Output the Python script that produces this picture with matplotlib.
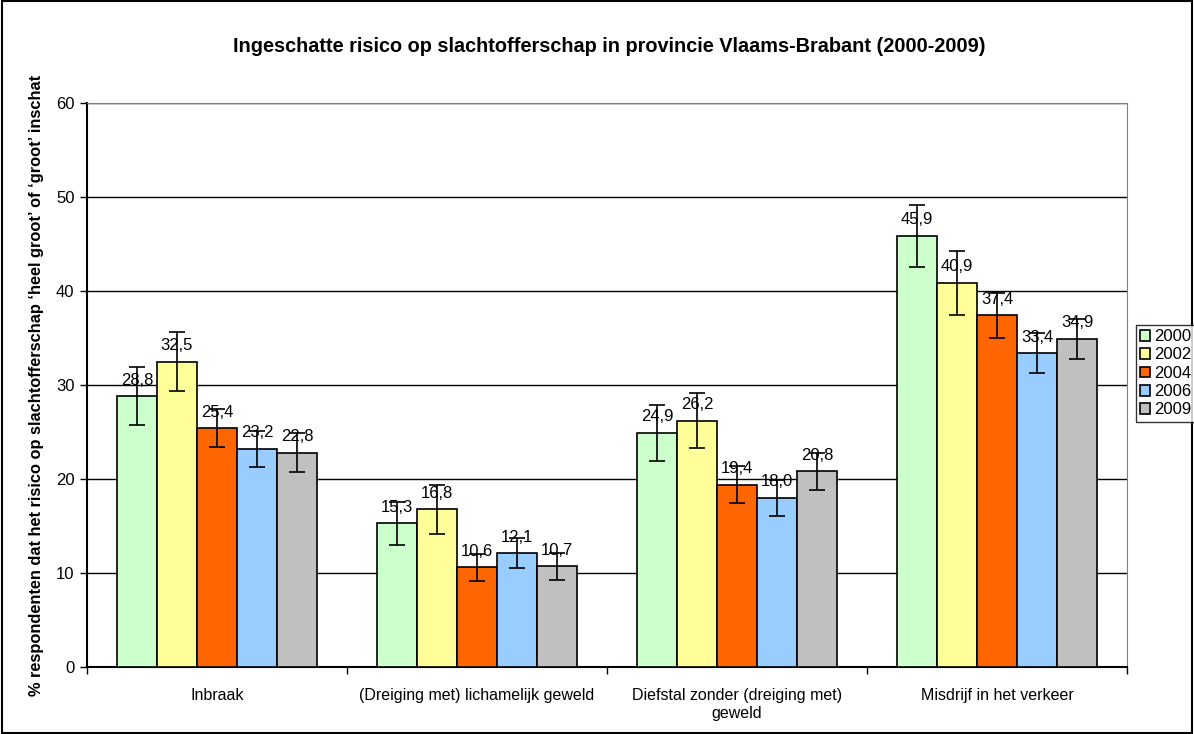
import matplotlib
matplotlib.use("Agg")
import matplotlib.pyplot as plt
import numpy as np
from matplotlib.patches import Rectangle

categories = ["Inbraak", "(Dreiging met) lichamelijk geweld",
              "Diefstal zonder (dreiging met)\ngeweld", "Misdrijf in het verkeer"]
years = ["2000", "2002", "2004", "2006", "2009"]
values = {
    "2000": [28.8, 15.3, 24.9, 45.9],
    "2002": [32.5, 16.8, 26.2, 40.9],
    "2004": [25.4, 10.6, 19.4, 37.4],
    "2006": [23.2, 12.1, 18.0, 33.4],
    "2009": [22.8, 10.7, 20.8, 34.9],
}
errors = {
    "2000": [3.1, 2.3, 3.0, 3.3],
    "2002": [3.1, 2.6, 2.9, 3.4],
    "2004": [2.0, 1.4, 2.0, 2.4],
    "2006": [1.9, 1.6, 1.9, 2.1],
    "2009": [2.1, 1.4, 2.0, 2.1],
}
colors = ["#CCFFCC", "#FFFF99", "#FF6600", "#99CCFF", "#C0C0C0"]

plt.rcParams['font.family'] = ['Liberation Sans', 'DejaVu Sans']

fig = plt.figure(figsize=(11.94, 7.34), dpi=100)
fig.patches.append(Rectangle((0.002, 0.002), 0.996, 0.996, transform=fig.transFigure,
                             fill=False, edgecolor='black', linewidth=1.5))
ax = fig.add_axes([87/1194, 67/734, (1127-87)/1194, (667-103)/734])

x = np.arange(len(categories))
w = 0.154
handles = []
for i, yr in enumerate(years):
    pos = x + (i - 2) * w
    b = ax.bar(pos, values[yr], width=w, color=colors[i], edgecolor='black',
               linewidth=1.2, zorder=3, label=yr)
    handles.append(b)
    ax.errorbar(pos, values[yr], yerr=errors[yr], fmt='none', ecolor='black',
                elinewidth=1.2, capsize=6, capthick=1.2, zorder=4)
    for p, v in zip(pos, values[yr]):
        ax.text(p, v + 0.9, f"{v:.1f}".replace('.', ','), ha='center', va='bottom',
                fontsize=12, zorder=5)

ax.set_xlim(-0.5, 3.5)
ax.set_ylim(0, 60)
ax.set_yticks(range(0, 61, 10))
ax.yaxis.grid(True, color='black', linewidth=1, zorder=0)
ax.set_axisbelow(True)
ax.set_xticks(x)
ax.set_xticklabels(categories, fontsize=11.5, linespacing=1.3)
ax.set_xticks(np.arange(-0.5, 4.0, 1.0), minor=True)
ax.tick_params(axis='x', which='major', length=0, pad=15)
ax.tick_params(axis='x', which='minor', length=5, width=1, direction='out')
ax.tick_params(axis='y', length=5, width=1, direction='out', labelsize=12, pad=4)
for s in ['top', 'right']:
    ax.spines[s].set_visible(True)
    ax.spines[s].set_color('#808080')
ax.spines['left'].set_linewidth(1.5)
ax.spines['bottom'].set_linewidth(1.5)

ax.set_ylabel("% respondenten dat het risico op slachtofferschap \u2018heel groot\u2019 of \u2018groot\u2019 inschat",
              fontsize=11.8, fontweight='bold')
ax.yaxis.set_label_coords(-43/1040, (667-385)/564)
fig.text(609/1194, 1 - 47/734, "Ingeschatte risico op slachtofferschap in provincie Vlaams-Brabant (2000-2009)",
         ha='center', va='center', fontsize=14.3, fontweight='bold')

leg = fig.legend(handles=handles, labels=years, loc='upper left',
                 bbox_to_anchor=(1136/1194, 1 - 325/734), frameon=True, fancybox=False,
                 edgecolor='black', fontsize=12, handlelength=0.6, handleheight=0.6,
                 handletextpad=0.25, borderpad=0.25, labelspacing=0.2, borderaxespad=0)
leg.get_frame().set_linewidth(1)

fig.savefig("out.png", dpi=100)
